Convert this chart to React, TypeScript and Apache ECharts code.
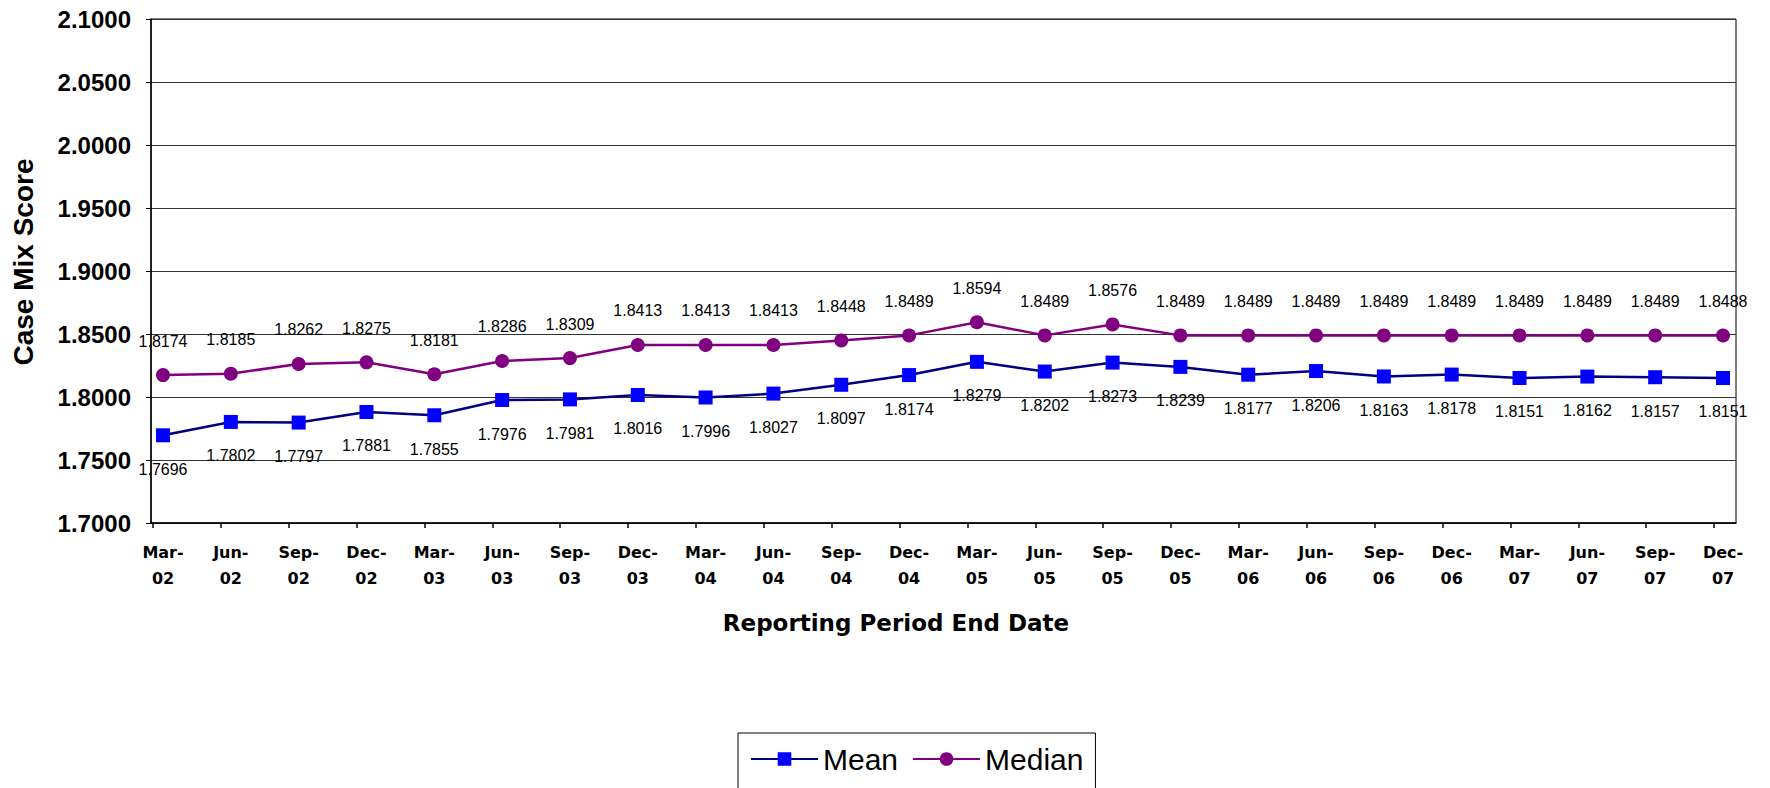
import React, { useEffect, useRef } from "react";
import * as echarts from "echarts";

const categories = [
  "Mar-\n02", "Jun-\n02", "Sep-\n02", "Dec-\n02",
  "Mar-\n03", "Jun-\n03", "Sep-\n03", "Dec-\n03",
  "Mar-\n04", "Jun-\n04", "Sep-\n04", "Dec-\n04",
  "Mar-\n05", "Jun-\n05", "Sep-\n05", "Dec-\n05",
  "Mar-\n06", "Jun-\n06", "Sep-\n06", "Dec-\n06",
  "Mar-\n07", "Jun-\n07", "Sep-\n07", "Dec-\n07",
];

const meanValues = [
  1.7696, 1.7802, 1.7797, 1.7881, 1.7855, 1.7976, 1.7981, 1.8016,
  1.7996, 1.8027, 1.8097, 1.8174, 1.8279, 1.8202, 1.8273, 1.8239,
  1.8177, 1.8206, 1.8163, 1.8178, 1.8151, 1.8162, 1.8157, 1.8151,
];

const medianValues = [
  1.8174, 1.8185, 1.8262, 1.8275, 1.8181, 1.8286, 1.8309, 1.8413,
  1.8413, 1.8413, 1.8448, 1.8489, 1.8594, 1.8489, 1.8576, 1.8489,
  1.8489, 1.8489, 1.8489, 1.8489, 1.8489, 1.8489, 1.8489, 1.8488,
];

const Y_MIN = 1.7;
const Y_MAX = 2.1;
const Y_STEP = 0.05;

const SANS = "'Liberation Sans', Arial, sans-serif";
const WIDE = "'DejaVu Sans', 'Liberation Sans', sans-serif";

export default function App() {
  const ref = useRef<HTMLDivElement>(null);

  useEffect(() => {
    document.body.style.margin = "0";
    const chart = echarts.init(ref.current!, undefined, { renderer: "svg" });
    const top = 19;
    const bottom = 265;
    chart.setOption({
      animation: false,
      backgroundColor: "#ffffff",
      grid: [
        { left: 151, right: 34, top, bottom, show: true, borderColor: "#000", borderWidth: 1, backgroundColor: "transparent" },
        { left: 163, right: 47, top, bottom },
        { left: 153, right: 56, top, bottom },
      ],
      xAxis: [
        {
          gridIndex: 0, type: "value", min: 0, max: 1,
          axisLine: { show: true, lineStyle: { color: "#000", width: 1.5 } },
          axisTick: { show: false }, axisLabel: { show: false }, splitLine: { show: false },
        },
        {
          gridIndex: 1, type: "category", data: categories, boundaryGap: false,
          axisLine: { show: false }, axisTick: { show: false }, splitLine: { show: false },
          axisLabel: {
            interval: 0, color: "#000", fontFamily: WIDE, fontWeight: "bold",
            fontSize: 16, lineHeight: 26, margin: 16,
          },
          name: "Reporting Period End Date",
          nameLocation: "middle",
          nameGap: 88,
          nameTextStyle: {
            color: "#000", fontFamily: WIDE, fontWeight: "bold", fontSize: 23,
            padding: [0, 94, 0, 0],
          },
        },
        {
          gridIndex: 2, type: "value", min: 0, max: 23, interval: 1,
          axisLine: { show: false },
          axisTick: { show: true, length: 5, lineStyle: { color: "#000", width: 1.5 } },
          axisLabel: { show: false }, splitLine: { show: false },
        },
      ],
      yAxis: [
        {
          gridIndex: 0, type: "value", min: Y_MIN, max: Y_MAX, interval: Y_STEP,
          axisLine: { show: true, lineStyle: { color: "#000", width: 1.5 } },
          axisTick: { show: true, length: 5, lineStyle: { color: "#000" } },
          splitLine: { show: true, lineStyle: { color: "#333", width: 1 } },
          axisLabel: {
            color: "#000", fontFamily: SANS, fontWeight: "bold", fontSize: 24, margin: 20,
            formatter: (v: number) => v.toFixed(4),
          },
          name: "Case Mix Score",
          nameLocation: "middle",
          nameGap: 114,
          nameTextStyle: {
            color: "#000", fontFamily: SANS, fontWeight: "bold", fontSize: 28,
            padding: [0, 0, 0, 18],
          },
        },
        { gridIndex: 1, type: "value", min: Y_MIN, max: Y_MAX, show: false },
        { gridIndex: 2, type: "value", min: Y_MIN, max: Y_MAX, show: false },
      ],
      legend: {
        left: 738,
        top: 733,
        padding: [11, 12, 40, 12],
        borderColor: "#000",
        borderWidth: 1,
        itemWidth: 67,
        itemHeight: 17,
        itemGap: 14,
        textStyle: { color: "#000", fontFamily: SANS, fontSize: 30 },
        data: ["Mean", "Median"],
      },
      series: [
        {
          name: "Mean", type: "line", xAxisIndex: 1, yAxisIndex: 1,
          data: meanValues,
          symbol: "rect", symbolSize: 14,
          lineStyle: { color: "#000080", width: 2.5 },
          itemStyle: { color: "#0000ff" },
          label: {
            show: true, position: "bottom", distance: 19,
            color: "#000", fontFamily: SANS, fontSize: 16,
            formatter: (p: any) => Number(p.value).toFixed(4),
          },
        },
        {
          name: "Median", type: "line", xAxisIndex: 1, yAxisIndex: 1,
          data: medianValues,
          symbol: "circle", symbolSize: 14,
          lineStyle: { color: "#800080", width: 2.5 },
          itemStyle: { color: "#800080" },
          label: {
            show: true, position: "top", distance: 19,
            color: "#000", fontFamily: SANS, fontSize: 16,
            formatter: (p: any) => Number(p.value).toFixed(4),
          },
        },
      ],
    });
    return () => chart.dispose();
  }, []);

  return <div ref={ref} style={{ width: 1770, height: 788 }} />;
}
